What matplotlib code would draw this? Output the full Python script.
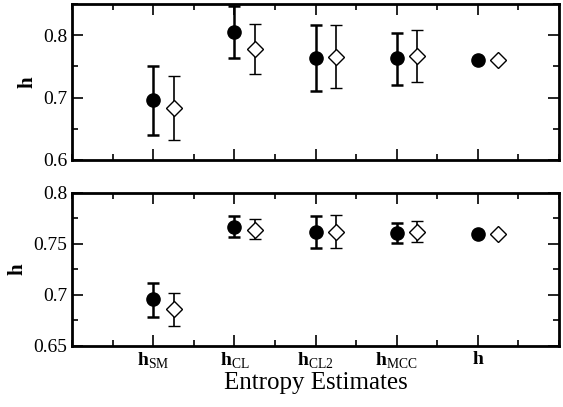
import matplotlib
matplotlib.use("Agg")
import matplotlib.pyplot as plt
from matplotlib.ticker import MultipleLocator

plt.rcParams['font.family'] = ['Liberation Serif']
plt.rcParams['mathtext.fontset'] = 'custom'
plt.rcParams['mathtext.rm'] = 'Liberation Serif'
plt.rcParams['mathtext.bf'] = 'Liberation Serif:bold'

categories = [r'$\mathbf{h}_{\mathrm{SM}}$', r'$\mathbf{h}_{\mathrm{CL}}$',
              r'$\mathbf{h}_{\mathrm{CL2}}$', r'$\mathbf{h}_{\mathrm{MCC}}$', r'$\mathbf{h}$']
positions = [1, 2, 3, 4, 5]

# top panel
top_filled = [0.696, 0.805, 0.763, 0.763, 0.760]
top_filled_hi = [0.750, 0.847, 0.816, 0.803, 0.760]
top_filled_lo = [0.640, 0.763, 0.710, 0.720, 0.760]
top_open = [0.683, 0.778, 0.765, 0.766, 0.760]
top_open_hi = [0.734, 0.818, 0.816, 0.808, 0.760]
top_open_lo = [0.632, 0.738, 0.715, 0.725, 0.760]

# bottom panel
bot_filled = [0.696, 0.767, 0.762, 0.761, 0.760]
bot_filled_hi = [0.712, 0.777, 0.777, 0.771, 0.760]
bot_filled_lo = [0.678, 0.757, 0.746, 0.751, 0.760]
bot_open = [0.686, 0.764, 0.762, 0.762, 0.760]
bot_open_hi = [0.702, 0.774, 0.778, 0.772, 0.760]
bot_open_lo = [0.670, 0.755, 0.746, 0.752, 0.760]

offset = 0.25

fig = plt.figure(figsize=(5.63, 4.07), dpi=100)
ax1 = fig.add_axes([0.128, 0.607, 0.865, 0.383])
ax2 = fig.add_axes([0.128, 0.150, 0.865, 0.376])


def draw(ax, f, fhi, flo, o, ohi, olo):
    def nz(lo, hi, v):
        return [[max(a - b, 0) for a, b in zip(v, lo)], [max(b - a, 0) for a, b in zip(v, hi)]]
    ef = nz(flo, fhi, f)
    eo = nz(olo, ohi, o)
    ax.errorbar(positions, f, yerr=ef, fmt='o', color='black', ms=9.5,
                elinewidth=1.8, capsize=4, capthick=1.8)
    ax.errorbar([p + offset for p in positions], o, yerr=eo, fmt='D', color='black',
                mfc='white', mec='black', ms=8.5, mew=1.0,
                elinewidth=1.2, capsize=4, capthick=1.2)
    ax.set_xlim(0, 6)
    ax.xaxis.set_major_locator(MultipleLocator(1))
    ax.xaxis.set_minor_locator(MultipleLocator(0.5))
    ax.tick_params(which='both', direction='in', top=True, right=True, width=1.2)
    ax.tick_params(which='major', length=8, labelsize=14)
    ax.tick_params(which='minor', length=4)
    for s in ax.spines.values():
        s.set_linewidth(2)
    ax.set_ylabel('h', fontsize=15, fontweight='bold')


draw(ax1, top_filled, top_filled_hi, top_filled_lo, top_open, top_open_hi, top_open_lo)
ax1.set_ylim(0.6, 0.85)
ax1.set_yticks([0.6, 0.7, 0.8])
ax1.set_yticklabels(['0.6', '0.7', '0.8'])
ax1.yaxis.set_minor_locator(MultipleLocator(0.05))
ax1.set_xticks(positions)
ax1.set_xticklabels([])

draw(ax2, bot_filled, bot_filled_hi, bot_filled_lo, bot_open, bot_open_hi, bot_open_lo)
ax2.set_ylim(0.65, 0.8)
ax2.set_yticks([0.65, 0.7, 0.75, 0.8])
ax2.set_yticklabels(['0.65', '0.7', '0.75', '0.8'])
ax2.yaxis.set_minor_locator(MultipleLocator(0.025))
ax2.set_xticks(positions)
ax2.set_xticklabels(categories, fontsize=14)
ax2.set_xlabel('Entropy Estimates', fontsize=18, labelpad=1)

fig.savefig('out.png', dpi=100)
